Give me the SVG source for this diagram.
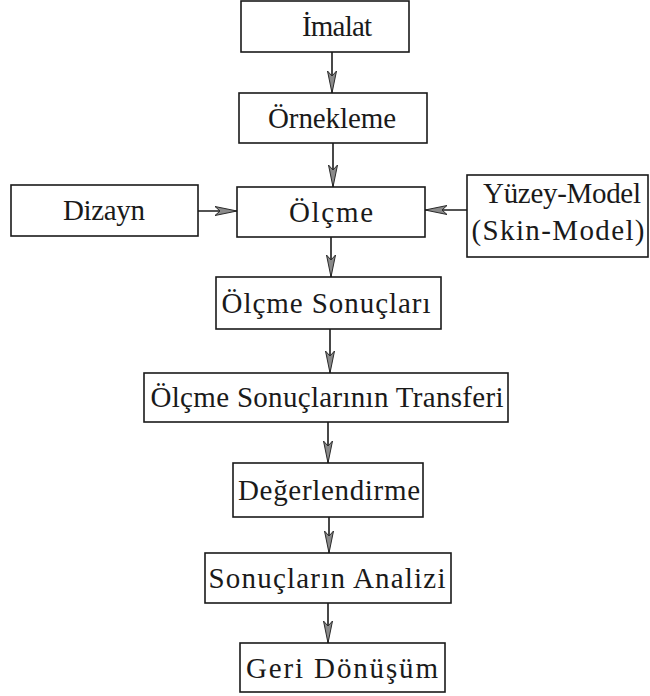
<svg xmlns="http://www.w3.org/2000/svg" width="650" height="696" viewBox="0 0 650 696">
<style>
.box{fill:#fff;stroke:#1a1a1a;stroke-width:1.6}
.t{font-family:"Liberation Serif","DejaVu Serif",serif;font-size:29px;fill:#1a1a1a;text-anchor:middle}
.c{stroke:#1a1a1a;stroke-width:1.6;fill:none;marker-end:url(#ah)}
</style>
<defs>
<marker id="ah" markerUnits="userSpaceOnUse" markerWidth="24" markerHeight="12" refX="22" refY="5" orient="auto">
<path d="M0,0.5 L22,5 L0,9.5 L5,5 z" fill="#8a8a8a" stroke="#2a2a2a" stroke-width="1"/>
</marker>
</defs>
<rect width="650" height="696" fill="#fff"/>
<g id="connectors">
<line class="c" x1="332" y1="52" x2="332" y2="93"/>
<line class="c" x1="333" y1="143" x2="333" y2="187"/>
<line class="c" x1="331" y1="237" x2="331" y2="277"/>
<line class="c" x1="330" y1="329" x2="330" y2="373"/>
<line class="c" x1="328" y1="422" x2="328" y2="463"/>
<line class="c" x1="329" y1="517" x2="329" y2="553"/>
<line class="c" x1="328" y1="603" x2="328" y2="643"/>
<line class="c" x1="198" y1="211" x2="237" y2="211"/>
<line class="c" x1="467" y1="210" x2="425" y2="210"/>
</g>
<g id="imalat"><rect class="box" x="241" y="1" width="168" height="51"/><text class="t" x="337" y="36" textLength="70">İmalat</text></g>
<g id="ornekleme"><rect class="box" x="239" y="93" width="188" height="50"/><text class="t" x="332" y="128" textLength="128">Örnekleme</text></g>
<g id="dizayn"><rect class="box" x="11" y="185" width="187" height="51"/><text class="t" x="104" y="220" textLength="82">Dizayn</text></g>
<g id="olcme"><rect class="box" x="237" y="187" width="188" height="50"/><text class="t" x="331" y="222" textLength="84">Ölçme</text></g>
<g id="yuzey"><rect class="box" x="467" y="175" width="181" height="82"/><text class="t" x="562" y="203" textLength="158">Yüzey-Model</text><text class="t" x="558" y="240" textLength="173">(Skin-Model)</text></g>
<g id="olcme-sonuclari"><rect class="box" x="216" y="277" width="225" height="52"/><text class="t" x="326" y="313" textLength="209">Ölçme Sonuçları</text></g>
<g id="transferi"><rect class="box" x="144" y="373" width="364" height="49"/><text class="t" x="327" y="407" textLength="353">Ölçme Sonuçlarının Transferi</text></g>
<g id="degerlendirme"><rect class="box" x="233" y="463" width="190" height="54"/><text class="t" x="329" y="500" textLength="182">Değerlendirme</text></g>
<g id="sonuclarin-analizi"><rect class="box" x="205" y="553" width="246" height="50"/><text class="t" x="327" y="588" textLength="237">Sonuçların Analizi</text></g>
<g id="geri-donusum"><rect class="box" x="240" y="643" width="205" height="49"/><text class="t" x="342" y="678" textLength="192">Geri Dönüşüm</text></g>
</svg>
